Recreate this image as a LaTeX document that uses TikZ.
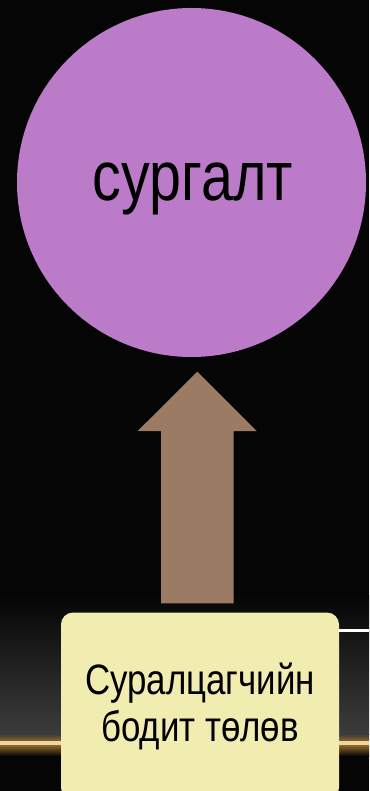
\documentclass[tikz,border=0pt]{standalone}
\usepackage{fontspec}
\setmainfont[FakeStretch=0.82]{Liberation Sans}
\definecolor{circfill}{HTML}{BC7BC8}
\definecolor{arrowfill}{HTML}{9C7B65}
\definecolor{boxfill}{HTML}{F1ECB0}
\definecolor{bandgray}{HTML}{3C3C3C}
\definecolor{glowdark}{HTML}{8A6428}
\definecolor{glowbright}{HTML}{EED6A0}
\definecolor{bgblack}{HTML}{050505}
\tikzset{
  circnode/.style={circle, fill=circfill, minimum size=349pt, inner sep=0pt},
  circtext/.style={font=\fontsize{70}{84}\selectfont, text=black, anchor=base, inner sep=0pt},
  boxnode/.style={rectangle, rounded corners=12pt, fill=boxfill, minimum width=278pt, minimum height=187pt, inner sep=0pt, align=center, font=\fontsize{42.5}{47}\selectfont, text=black},
  arrowshape/.style={fill=arrowfill},
  whiteline/.style={draw=white, line width=3pt}
}
\begin{document}
\begin{tikzpicture}[x=1pt,y=-1pt]
\useasboundingbox (0,0) rectangle (369,791);
% background
\fill[bgblack] (0,0) rectangle (369,791);
\shade[top color=bgblack, bottom color=bandgray] (0,595) rectangle (369,734);
\shade[top color=bandgray, bottom color=glowdark] (0,734) rectangle (369,741);
\fill[glowbright] (0,741) rectangle (369,745.5);
\shade[top color=glowdark, bottom color=bgblack] (0,745.5) rectangle (369,756);
% circle
\node[circnode] (c) at (191.5,182.5) {};
\node[circtext] (ctext) at (193,200.7) {сургалт};
% arrow
\fill[arrowshape] (161,603.3) -- (161,431) -- (137.7,431) -- (197.3,371.7) -- (256.7,431) -- (233.7,431) -- (233.7,603.3) -- cycle;
% box
\node[boxnode] (b) at (200,706) {Суралцагчийн\\бодит төлөв};
\coordinate (lineend) at (369,630.5);
\draw[whiteline] (b.east |- lineend) -- (lineend);
\end{tikzpicture}
\end{document}
